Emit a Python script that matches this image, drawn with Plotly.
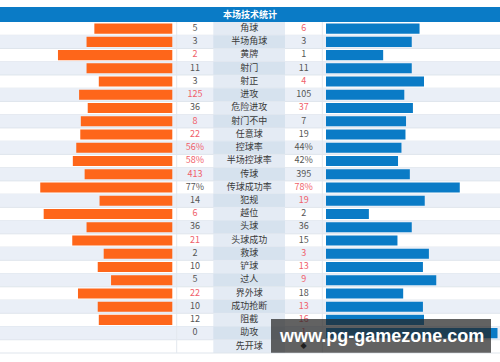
import plotly.graph_objects as go

# ---------------- data ----------------
title = "本场技术统计"
labels = ['角球', '半场角球', '黄牌', '射门', '射正', '进攻', '危险进攻', '射门不中', '任意球',
          '控球率', '半场控球率', '传球', '传球成功率', '犯规', '越位', '头球', '头球成功',
          '救球', '铲球', '过人', '界外球', '成功抢断', '阻截', '助攻', '先开球']
left_vals = [5, 3, 2, 11, 3, 125, 36, 8, 22, 56, 58, 413, 77, 14, 6, 36, 21, 2, 10, 5, 22, 10, 12, 0, None]
right_vals = [6, 3, 1, 11, 4, 105, 37, 7, 19, 44, 42, 395, 78, 19, 2, 36, 15, 3, 13, 9, 18, 13, 16, 1, None]
is_pct = [False] * 9 + [True, True, False, True] + [False] * 12
watermark = "www.pg-gamezone.com"

# ---------------- geometry / style ----------------
W, H = 500, 362
TOP = 22.0          # pixel top of first row
ROW_H = 13.24       # pixel height of a row
FULL = 171.5        # pixel length of a 100% bar
L_END, R_START = 172.3, 326.0
C_LV0, C_LV1 = 176.7, 213.3
C_LB0, C_LB1 = 213.3, 285.0
C_RV0, C_RV1 = 285.0, 322.3

ORANGE = "#fe661a"
BLUE = "#0a7bc6"
RED = "#f0616b"
DARK = "#555555"
ROW_ALT = "#eaeff7"
LAB_A = "#e4ebf4"
LAB_B = "#d6e2ee"
FONT = "Noto Sans CJK SC"

n = len(labels)


def py(px):
    return (px - TOP) / ROW_H - 0.5


def fmt(v, pct):
    if v is None:
        return ""
    return f"{v}%" if pct else str(v)


# bar lengths
l_len, r_len = [], []
for lv, rv, p in zip(left_vals, right_vals, is_pct):
    if lv is None:
        l_len.append(0); r_len.append(0); continue
    if p:
        lf, rf = lv / 100, rv / 100
    else:
        s = lv + rv
        lf, rf = (lv / s, rv / s) if s else (0, 0)
    l_len.append(-lf * FULL)
    r_len.append(rf * FULL)

rows = list(range(n))

fig = go.Figure()

fig.add_trace(go.Bar(y=rows, x=l_len, base=[L_END] * n, orientation="h", width=0.76,
                     marker=dict(color=ORANGE, line=dict(width=0)), hoverinfo="skip"))
fig.add_trace(go.Bar(y=rows, x=r_len, base=[R_START] * n, orientation="h", width=0.76,
                     marker=dict(color=BLUE, line=dict(width=0)), hoverinfo="skip"))


def col(lv, rv, side):
    if lv is None:
        return DARK
    if side == "l":
        return RED if lv > rv else DARK
    return RED if rv > lv else DARK


fig.add_trace(go.Scatter(y=rows, x=[(C_LV0 + C_LV1) / 2] * n, mode="text",
                         text=[fmt(v, p) for v, p in zip(left_vals, is_pct)],
                         textfont=dict(family=FONT, size=9,
                                       color=[col(a, b, "l") for a, b in zip(left_vals, right_vals)]),
                         hoverinfo="skip"))
fig.add_trace(go.Scatter(y=rows, x=[(C_RV0 + C_RV1) / 2] * n, mode="text",
                         text=[fmt(v, p) for v, p in zip(right_vals, is_pct)],
                         textfont=dict(family=FONT, size=9,
                                       color=[col(a, b, "r") for a, b in zip(left_vals, right_vals)]),
                         hoverinfo="skip"))
fig.add_trace(go.Scatter(y=rows, x=[(C_LB0 + C_LB1) / 2] * n, mode="text", text=labels,
                         textfont=dict(family=FONT, size=9, color="#3a3a3a"),
                         hoverinfo="skip"))
# kick-off marker
fig.add_trace(go.Scatter(y=[n - 1], x=[(C_RV0 + C_RV1) / 2], mode="text", text=["◆"],
                         textfont=dict(family="DejaVu Sans", size=8, color="#111111"),
                         hoverinfo="skip"))

shapes = []
# row backgrounds
for i in range(n):
    y0, y1 = i - 0.5, i + 0.5
    if i % 2 == 1:
        shapes.append(dict(type="rect", x0=0, x1=W, y0=y0, y1=y1, fillcolor=ROW_ALT,
                           line=dict(width=0), layer="below"))
    shapes.append(dict(type="rect", x0=C_LB0, x1=C_LB1, y0=y0, y1=y1,
                       fillcolor=LAB_B if i % 2 == 1 else LAB_A, line=dict(width=0), layer="below"))
    shapes.append(dict(type="line", x0=0, x1=W, y0=y1, y1=y1,
                       line=dict(color="#dfe5ec", width=1), layer="below"))
# vertical separators
for xv in [C_LV0, C_RV1]:
    shapes.append(dict(type="line", x0=xv, x1=xv, y0=-0.5, y1=n - 0.5,
                       line=dict(color="#e3e8ee", width=1), layer="below"))
# title bar
shapes.append(dict(type="rect", x0=0, x1=W, y0=py(7), y1=-0.5, fillcolor="#0a7bc6",
                   line=dict(width=0), layer="below"))
# watermark box
shapes.append(dict(type="rect", x0=271, x1=491, y0=py(319), y1=py(352.7),
                   fillcolor="rgba(38,38,38,0.72)", line=dict(width=0), layer="above"))

annotations = [
    dict(x=W / 2, y=(py(7) - 0.5) / 2, text=f"<b>{title}</b>", showarrow=False,
         font=dict(family=FONT, size=9, color="white"), xanchor="center", yanchor="middle"),
    dict(x=(271 + 491) / 2, y=py(336), text=f"<b>{watermark}</b>", showarrow=False,
         font=dict(family="Liberation Sans", size=18, color="white"),
         xanchor="center", yanchor="middle"),
]

fig.update_layout(
    width=W, height=H, autosize=False,
    margin=dict(l=0, r=0, t=0, b=0, pad=0),
    paper_bgcolor="white", plot_bgcolor="white",
    showlegend=False, barmode="overlay",
    xaxis=dict(range=[0, W], visible=False, fixedrange=True),
    yaxis=dict(range=[py(H), py(0)], visible=False, fixedrange=True),
    shapes=shapes, annotations=annotations,
)

fig.write_html("out.html", config={"displayModeBar": False},
               post_script="document.body.style.margin='0';document.body.style.padding='0';")
